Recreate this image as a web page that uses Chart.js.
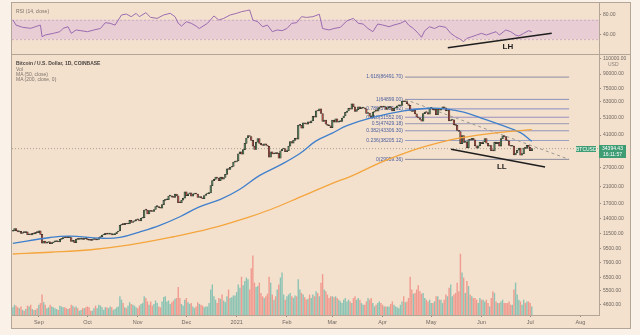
<!DOCTYPE html>
<html>
<head>
<meta charset="utf-8">
<title>Bitcoin / U.S. Dollar, 1D</title>
<script src="https://cdn.jsdelivr.net/npm/chart.js@4.4.1/dist/chart.umd.min.js"></script>
<style>
  html, body { margin:0; padding:0; }
  body { width:640px; height:335px; background:#faf2e8; position:relative; overflow:hidden;
         font-family:"Liberation Sans", Arial, sans-serif; }
  #frame { position:absolute; left:11px; top:2px; width:620px; height:327px; background:#f3e1ce;
           border:1px solid #b3a697; box-sizing:border-box; }
  canvas { position:absolute; left:12px; }
  #rsi { top:3px; }
  #main { top:54px; }
  #sep { position:absolute; left:12px; width:618px; top:54px; border-top:1px solid #b3a697; }
  .t { position:absolute; font-size:5px; line-height:6px; color:#7d7268; white-space:nowrap; }
  .b { font-weight:bold; color:#4a4440; }
  .tag { position:absolute; background:#3f9d74; color:#fff; font-size:5px; line-height:6px;
         white-space:nowrap; text-align:center; }
</style>
</head>
<body>
<div id="frame"></div>
<canvas id="rsi" width="618" height="51"></canvas>
<canvas id="main" width="618" height="274"></canvas>
<div id="sep"></div>

<div class="t" style="left:16px;top:8px;">RSI (14, close)</div>
<div class="t b" style="left:16px;top:60px;">Bitcoin / U.S. Dollar, 1D, COINBASE</div>
<div class="t" style="left:16px;top:66px;">Vol</div>
<div class="t" style="left:16px;top:71px;">MA (50, close)</div>
<div class="t" style="left:16px;top:76px;">MA (200, close, 0)</div>
<div class="t" style="left:608px;top:61px;color:#8a8076;">USD</div>
<div class="tag" style="left:576px;top:146px;width:20px;height:6px;">BTCUSD</div>
<div class="tag" style="left:599px;top:145px;width:27px;height:13px;">34394.43<br>16:11:57</div>

<script>
// ---- daily candles, Aug 16 2020 .. Jul 2 2021 (day 0 = Sep 1 2020) ----
const firstDay = -16;
const firstOpen = 11870;
const closes = [
  // Aug 16-31
  11900,12290,11970,11760,11870,11520,11680,11650,11760,11340,11470,11330,11540,11480,11710,11650,
  // Sep
  11920,11390,10170,10470,10160,10260,10370,10120,10230,10340,10390,10440,10330,10680,10790,
  10950,10940,10930,11080,10920,10420,10530,10240,10740,10690,10730,10770,10690,10840,10780,
  // Oct
  10620,10570,10550,10670,10790,10600,10670,10920,11060,11300,11370,11540,11430,11430,11500,
  11320,11360,11500,11750,11910,12820,12980,12930,13120,13030,13070,13650,13280,13460,13560,13800,
  // Nov
  13760,13550,14030,14150,15590,15580,14830,15480,15330,15300,15700,16300,16330,16070,15960,
  16720,17660,17800,17820,18680,18710,18420,18370,19150,18730,17150,17140,17720,18180,19700,
  // Dec
  18790,19220,19440,18650,19150,19360,19170,18320,18550,18250,18030,18800,19170,19270,19440,
  21350,22800,23130,23860,23480,22740,23820,23240,23730,24700,26490,26280,27080,27390,28900,29000,
  // Jan
  29400,32200,33000,31990,33990,36800,39460,40670,40240,38240,35540,34010,37390,39150,36830,
  36070,35820,36640,36020,35490,30830,33010,32100,32290,32260,32500,30430,33470,34260,34270,33110,
  // Feb
  33520,35510,37670,36940,38300,39240,38890,46450,46520,44850,47970,47410,47200,48580,
  47940,49160,52140,51650,55920,55900,57490,54090,48890,49700,47090,46340,46190,45140,
  // Mar
  49630,48380,50540,48370,48750,48880,51040,52390,54880,55860,57800,57220,61190,59010,55650,
  56920,58920,57660,58060,58090,57380,54090,54350,52300,51310,55070,55860,55790,57620,58780,58740,
  // Apr
  58720,58960,57070,58200,59120,57990,56020,57990,58100,59770,59790,59980,63580,62950,63150,
  61340,60050,56250,55660,56470,53800,51700,51180,50100,49000,54020,55030,54830,53560,57750,
  // May
  57830,56630,57200,53240,57480,56430,57380,58930,58240,55860,56700,49150,49720,49880,46760,
  46450,43540,42900,36700,40730,37300,37540,34770,38710,38410,39290,38550,35680,34660,35680,37330,
  // Jun
  36690,37580,39190,36880,35530,35800,33560,33400,37390,36690,37340,35550,39100,40520,40150,
  38350,38090,35820,35480,35600,31680,32510,33680,34660,31590,32260,34700,34490,35910,35040,
  // Jul
  33540,34394.43
];
// daily volume, thousand BTC
const volumes = [
  9,12,11,9,8,10,6,5,7,11,10,12,7,6,6,8,
  12,14,24,15,12,8,9,12,10,9,8,7,6,11,10,9,9,8,7,8,12,11,9,10,8,5,6,8,8,9,
  10,9,5,5,8,11,8,12,11,9,6,9,9,8,10,9,6,7,9,10,22,18,14,9,8,11,15,13,12,11,9,
  8,11,13,14,22,20,16,12,16,11,13,17,14,10,9,16,21,22,16,17,13,15,17,19,20,33,20,13,11,18,
  20,15,13,14,10,8,10,15,13,12,11,9,10,10,14,30,36,22,18,14,20,19,24,17,15,22,30,20,21,23,23,
  27,36,32,45,35,40,44,42,30,55,70,38,33,34,38,26,22,20,22,25,45,38,24,18,22,30,36,44,50,24,18,
  22,24,26,22,20,23,22,42,30,26,24,21,18,19,24,20,24,22,28,26,22,38,48,30,28,24,20,22,
  22,21,22,20,18,16,14,18,20,16,18,16,14,20,22,18,20,18,14,12,12,16,20,18,20,14,10,12,14,16,14,
  12,10,10,10,10,13,16,12,10,9,8,12,16,22,15,16,20,45,30,25,26,30,35,28,25,26,20,18,16,18,
  14,14,16,22,22,18,18,14,18,24,22,32,36,22,24,26,38,28,72,50,44,26,40,34,24,22,20,20,18,14,20,
  18,18,16,18,14,10,20,28,26,16,14,14,16,18,14,14,14,16,12,12,30,38,24,18,16,12,18,14,16,16,
  14,10
];

// moving averages [day, price]
const ma50Days  = [-16,7,19,38,50,62,75,87,99,112,124,136,149,161,171,181,190,206,225,240,252,262,272,284,297,304];
const ma50Vals  = [10150,10950,11150,10850,10950,11750,12850,14300,16250,17900,20400,24300,27900,32300,
                   38000,42000,46300,51500,56000,57900,57300,55000,51300,47000,42300,37800];
const ma200Days = [-16,7,32,56,81,106,130,143,161,181,192,212,225,240,260,273,289,304];
const ma200Vals = [8850,9050,9350,9950,10950,12300,14300,15700,18400,22000,24000,29100,32300,35800,
                   39500,41200,42800,43900];

// RSI (14)
const rsiDays = [-16,-14,-10,-5,-1,1,2,4,9,13,15,18,20,23,30,34,38,41,44,47,51,54,57,60,62,66,69,73,77,81,
  84,86,88,91,94,97,99,104,108,111,114,118,122,125,128,130,132,135,138,141,144,147,150,153,156,159,162,
  165,169,173,175,179,182,186,190,194,197,200,203,206,209,212,216,219,223,226,228,231,234,236,238,241,
  244,247,251,254,257,260,262,264,267,270,273,276,279,282,284,288,291,294,296,299,302,304];
const rsiVals = [69.6,59,54.5,52.4,57,59,35,38.5,42,45.4,52.4,55.7,42,49,45.4,49,52,64,62.8,59,80,82,76.5,
  83.5,76.5,84.8,75,73,80,83.5,76.5,62.8,57,66,62.8,57,52,62.8,78,69.6,73,80,83.5,86.8,89,90.4,69.6,66,
  55.7,59,45.4,49,47.5,52,62.8,64,76.5,75,76.5,81.5,52,49,52,54.5,68,73,62.8,61.3,52,45.4,61.3,59.3,55.7,
  59.3,62.8,68,59.3,52,42,33.8,47.5,55.7,52,57,54.5,42,35,29.6,24.7,31.7,35,38.5,42,38.5,42,45.4,38.5,
  49,45.4,38.5,36.5,42,47.5,45.4,45.4];

// Fibonacci retracement from the Apr 14 high
const fibRatios = ['1.618','1','0.786','0.618','0.5','0.382','0.236','0'];
const fibPrices = [86491.70,64899.00,57421.92,51552.06,47429.18,43306.30,38205.12,29959.36];
const fibFrom = 225.8, fibTo = 327;
const lastPrice = 34394.43;

// hand-drawn trend lines
const llLine = [[254.2,34110],[312.2,27150]];
const lhLine = [[252.2,12.2],[316.3,42.1]];

// axes
const monthDays   = [0,30,61,91,122,153,181,212,242,273,303,334];
const monthLabels = ['Sep','Oct','Nov','Dec','2021','Feb','Mar','Apr','May','Jun','Jul','Aug'];
const priceTicks  = [110000,90000,75000,63000,51000,41000,27000,21000,17000,14000,11500,9500,7900,6500,5500,4600];
const rsiTicks    = [80,40];

// ---------------------------------------------------------------
const X_MIN = -16.53, X_MAX = 345.45;
const FONT = '"Liberation Sans", Arial, sans-serif';
const AXIS_TXT = '#6f665e', FRAME = '#b3a697';

const candles = [], volBars = [], candleCol = [], volCol = [];
closes.forEach((c, i) => {
  const o = i === 0 ? firstOpen : closes[i - 1];
  const d = firstDay + i;
  const up = c >= o;
  candles.push({x: d, y: [o, c]});
  volBars.push({x: d, y: volumes[i]});
  candleCol.push(up ? '#4f7d55' : '#b24a42');
  volCol.push(up ? 'rgba(38,166,154,0.5)' : 'rgba(239,83,80,0.5)');
});
const pts = (xs, ys) => xs.map((x, i) => ({x, y: ys[i]}));
const pairs = a => a.map(p => ({x: p[0], y: p[1]}));

function fixedRight(w) {
  return s => { s.width = w; s.paddingTop = 0; s.paddingBottom = 0; s.paddingLeft = 0; s.paddingRight = 0; };
}

// RSI pane ---------------------------------------------------------
const rsiBand = {
  id: 'rsiBand',
  beforeDatasetsDraw(chart) {
    const {ctx, chartArea: a, scales: {y}} = chart;
    const y70 = y.getPixelForValue(70), y30 = y.getPixelForValue(30);
    ctx.save();
    ctx.fillStyle = '#e8cdd4';
    ctx.fillRect(a.left, y70, a.right - a.left, y30 - y70);
    ctx.strokeStyle = '#cdaec0'; ctx.lineWidth = 1; ctx.setLineDash([2, 2]);
    [y70, y30].forEach(v => { ctx.beginPath(); ctx.moveTo(a.left, v + 0.5); ctx.lineTo(a.right, v + 0.5); ctx.stroke(); });
    ctx.restore();
  },
  afterDatasetsDraw(chart) {
    const {ctx, scales: {x, y}} = chart;
    ctx.save();
    ctx.font = 'bold 8px ' + FONT; ctx.fillStyle = '#1e1e1e';
    ctx.textAlign = 'center'; ctx.textBaseline = 'middle';
    ctx.fillText('LH', x.getPixelForValue(289.3), y.getPixelForValue(14.3));
    ctx.restore();
  }
};

new Chart(document.getElementById('rsi'), {
  type: 'line',
  data: { datasets: [
    { data: pts(rsiDays, rsiVals), borderColor: '#9b6cb0', borderWidth: 1, pointRadius: 0, tension: 0 },
    { data: pairs(lhLine), borderColor: '#1e1e1e', borderWidth: 1.6, pointRadius: 0 }
  ]},
  options: {
    responsive: false, animation: false, events: [],
    layout: { padding: 0 },
    plugins: { legend: { display: false }, tooltip: { enabled: false } },
    scales: {
      x: { type: 'linear', min: X_MIN, max: X_MAX, display: false, offset: false },
      y: {
        position: 'right', min: -0.83, max: 104.87,
        afterBuildTicks: s => { s.ticks = rsiTicks.map(v => ({value: v})); },
        afterFit: fixedRight(31),
        ticks: { callback: v => Number(v).toFixed(2), font: { size: 5, family: FONT }, color: AXIS_TXT, padding: 2, autoSkip: false },
        grid: { drawOnChartArea: false, drawTicks: true, tickLength: 2, color: '#9a8f85' },
        border: { display: true, color: FRAME }
      }
    }
  },
  plugins: [rsiBand]
});

// price pane -------------------------------------------------------
const priceNotes = {
  id: 'priceNotes',
  beforeDatasetsDraw(chart) {
    const {ctx, scales: {x, y}} = chart;
    ctx.save();
    ctx.font = '5px ' + FONT; ctx.fillStyle = '#4c5f9e';
    ctx.textAlign = 'right'; ctx.textBaseline = 'middle';
    const lx = x.getPixelForValue(fibFrom) - 2;
    fibRatios.forEach((r, i) => ctx.fillText(r + '(' + fibPrices[i].toFixed(2) + ')', lx, y.getPixelForValue(fibPrices[i])));
    ctx.restore();
  },
  afterDatasetsDraw(chart) {
    const {ctx, scales: {x, y}} = chart;
    ctx.save();
    ctx.font = 'bold 8px ' + FONT; ctx.fillStyle = '#1e1e1e';
    ctx.textAlign = 'center'; ctx.textBaseline = 'middle';
    ctx.fillText('LL', x.getPixelForValue(285.5), y.getPixelForValue(27050));
    ctx.restore();
  }
};

const fibColors = ['#8a8ca3','#8b90b6','#8c8cc0','#9a8fc0','#9a9ab2','#8f93b8','#9aa0c0','#8d8d9e'];
const fibSets = fibPrices.map((p, i) => ({
  type: 'line', data: [{x: fibFrom, y: p}, {x: fibTo, y: p}],
  borderColor: fibColors[i], borderWidth: 1, pointRadius: 0, order: 8
}));

new Chart(document.getElementById('main'), {
  type: 'bar',
  data: { datasets: [
    { type: 'bar', data: volBars, yAxisID: 'vol', backgroundColor: volCol, grouped: false,
      barPercentage: 1, categoryPercentage: 0.85, order: 10 },
    ...fibSets,
    { type: 'line', data: [{x: X_MIN, y: lastPrice}, {x: X_MAX, y: lastPrice}], borderColor: '#aaa097',
      borderWidth: 1, borderDash: [1, 2], pointRadius: 0, order: 7 },
    { type: 'line', data: [{x: fibFrom, y: fibPrices[1]}, {x: fibTo, y: fibPrices[7]}], borderColor: '#9c9890',
      borderWidth: 1, borderDash: [3, 3], pointRadius: 0, order: 6 },
    { type: 'bar', data: candles, backgroundColor: candleCol, borderColor: '#2e2e29', borderWidth: 0.6,
      borderSkipped: false, grouped: false, barPercentage: 1, categoryPercentage: 1, minBarLength: 1, order: 3 },
    { type: 'line', data: pts(ma200Days, ma200Vals), borderColor: '#f4a53c', borderWidth: 1.3,
      pointRadius: 0, tension: 0.4, order: 2 },
    { type: 'line', data: pts(ma50Days, ma50Vals), borderColor: '#3f7fcb', borderWidth: 1.3,
      pointRadius: 0, tension: 0.4, order: 2 },
    { type: 'line', data: pairs(llLine), borderColor: '#1e1e1e', borderWidth: 1.6, pointRadius: 0, order: 1 }
  ]},
  options: {
    responsive: false, animation: false, events: [],
    layout: { padding: 0 },
    plugins: { legend: { display: false }, tooltip: { enabled: false } },
    scales: {
      x: {
        type: 'linear', min: X_MIN, max: X_MAX, position: 'bottom', offset: false,
        afterBuildTicks: s => { s.ticks = monthDays.map(v => ({value: v})); },
        afterFit: s => { s.height = 13; s.paddingLeft = 0; s.paddingRight = 0; },
        ticks: { callback: v => monthLabels[monthDays.indexOf(v)], font: { size: 5.5, family: FONT },
                 color: AXIS_TXT, padding: 2, autoSkip: false, maxRotation: 0 },
        grid: { offset: false, drawOnChartArea: false, drawTicks: true, tickLength: 2, color: '#9a8f85' },
        border: { display: true, color: FRAME }
      },
      y: {
        type: 'logarithmic', position: 'right', min: 4033, max: 116458,
        afterBuildTicks: s => { s.ticks = priceTicks.map(v => ({value: v})); },
        afterFit: fixedRight(31),
        ticks: { callback: v => Number(v).toFixed(2), font: { size: 5, family: FONT }, color: AXIS_TXT,
                 padding: 2, autoSkip: false },
        grid: { drawOnChartArea: false, drawTicks: true, tickLength: 2, color: '#9a8f85' },
        border: { display: true, color: FRAME }
      },
      vol: { type: 'linear', display: false, min: 0, max: 307 }
    }
  },
  plugins: [priceNotes]
});
</script>
</body>
</html>
